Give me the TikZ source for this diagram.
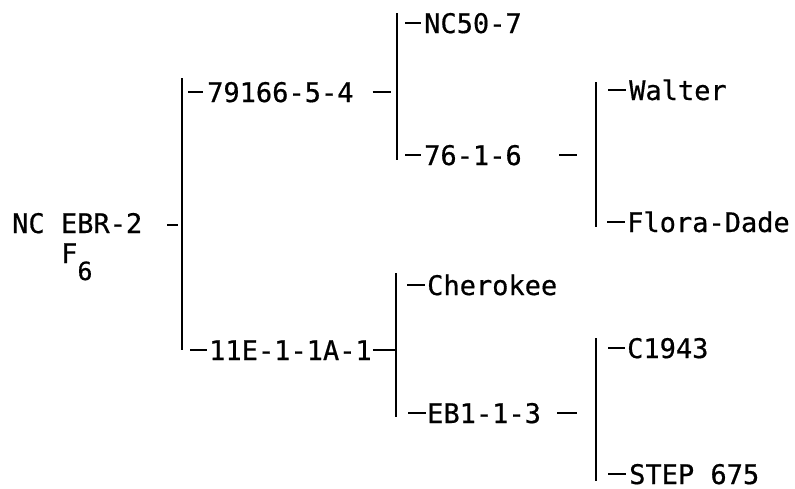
\documentclass[tikz,border=0pt]{standalone}
\usepackage{fontspec}
\newfontfamily\typefont[FakeBold=0.6]{DejaVu Sans Mono}
\begin{document}
\begin{tikzpicture}[x=1pt,y=-1pt,line width=2.4pt,
  lbl/.style={anchor=base west,inner sep=0pt,text height=19.7pt,text depth=0pt,
    font=\typefont\fontsize{27}{30}\selectfont}]
\useasboundingbox (0,0) rectangle (795,488);
% root
\node[lbl] (root) at (11,233) {NC EBR-2};
\node[lbl] (f6) at (60,263) {F\raisebox{-17pt}{\fontsize{25}{28}\selectfont 6}};
\coordinate (a1) at (182,78);
\coordinate (a2) at (182,350);
\coordinate (j0) at (182,225);
\draw (a1) -- (a2);
\draw ([xshift=-15pt]j0) -- ([xshift=-4pt]j0);
% level 1 upper
\node[lbl] (n1) at (206,102) {79166-5-4};
\draw ([xshift=6pt]a1 |- n1.west) -- ([xshift=-3pt]n1.west);
\coordinate (b1) at (397,13);
\coordinate (b2) at (397,160);
\draw (b1) -- (b2);
\draw ([xshift=18pt]n1.east) -- ([xshift=-6pt]b1 |- n1.west);
\node[lbl] (n11) at (423,33) {NC50-7};
\node[lbl] (n12) at (423,165) {76-1-6};
\draw ([xshift=8pt]b1 |- n11.west) -- ([xshift=-2pt]n11.west);
\draw ([xshift=8pt]b1 |- n12.west) -- ([xshift=-2pt]n12.west);
\coordinate (c1) at (596,82);
\coordinate (c2) at (596,227);
\draw (c1) -- (c2);
\draw ([xshift=-37pt]c1 |- n12.west) -- ([xshift=-19pt]c1 |- n12.west);
\node[lbl] (n121) at (628,100) {Walter};
\node[lbl] (n122) at (626,232) {Flora-Dade};
\draw ([xshift=12pt]c1 |- n121.west) -- ([xshift=-2pt]n121.west);
\draw ([xshift=11pt]c1 |- n122.west) -- ([xshift=-1pt]n122.west);
% level 1 lower
\node[lbl] (n2) at (208,360) {11E-1-1A-1};
\draw ([xshift=8pt]a1 |- n2.west) -- ([xshift=-1pt]n2.west);
\coordinate (d1) at (396,273);
\coordinate (d2) at (396,417);
\draw (d1) -- (d2);
\draw (n2.east) -- ([xshift=-1pt]d1 |- n2.west);
\node[lbl] (n21) at (426,295) {Cherokee};
\node[lbl] (n22) at (426,423) {EB1-1-3};
\draw ([xshift=11pt]d1 |- n21.west) -- ([xshift=-1pt]n21.west);
\draw ([xshift=12pt]d1 |- n22.west) -- ([xshift=0pt]n22.west);
\coordinate (e1) at (596,338);
\coordinate (e2) at (596,481);
\draw (e1) -- (e2);
\draw ([xshift=-39pt]e1 |- n22.west) -- ([xshift=-19pt]e1 |- n22.west);
\node[lbl] (n221) at (626,358) {C1943};
\node[lbl] (n222) at (628,484) {STEP 675};
\draw ([xshift=12pt]e1 |- n221.west) -- ([xshift=-1pt]n221.west);
\draw ([xshift=12pt]e1 |- n222.west) -- ([xshift=-2pt]n222.west);
\end{tikzpicture}
\end{document}
